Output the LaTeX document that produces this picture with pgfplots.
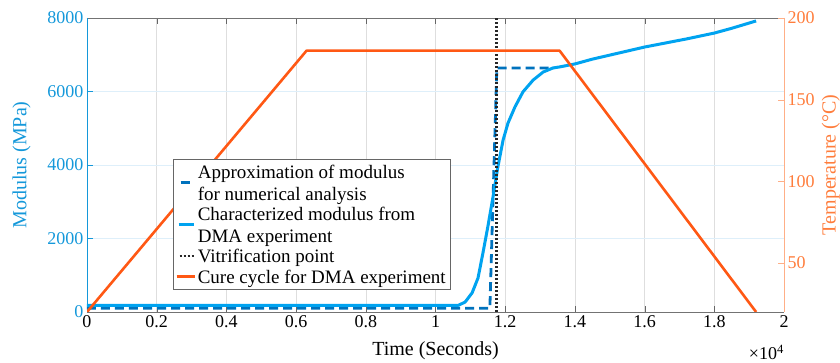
\documentclass[border=0pt]{standalone}
\usepackage{fontspec}
\setmainfont{Liberation Serif}
\usepackage{pgfplots}
\pgfplotsset{compat=1.18}
\definecolor{cblue}{RGB}{0,163,240}
\definecolor{cdash}{RGB}{0,114,189}
\definecolor{corange}{RGB}{255,88,20}
\definecolor{laxis}{RGB}{20,152,218}
\definecolor{raxis}{RGB}{255,125,60}
\definecolor{raxisline}{RGB}{255,175,135}
\definecolor{ygrid}{RGB}{222,239,250}
\definecolor{xgrid}{RGB}{222,222,222}
\begin{document}
\begin{tikzpicture}
\pgfplotsset{
 every axis/.append style={
  scale only axis, width=697pt, height=294pt,
  xmin=0, xmax=20000,
  tick align=inside,
  major tick length=6pt,
  scaled x ticks=false, scaled y ticks=false,
  /pgf/number format/assume math mode=true,
  tick label style={font=\fontsize{18}{18}\selectfont},
  label style={font=\fontsize{20}{20}\selectfont},
 }
}
\begin{axis}[
  axis y line*=left,
  ymin=0, ymax=8000,
  ytick={0,2000,4000,6000,8000},
  yticklabel style={color=laxis, /pgf/number format/set thousands separator={}},
  y axis line style={laxis},
  ytick style={laxis},
  xtick={0,2000,4000,6000,8000,10000,12000,14000,16000,18000,20000},
  xticklabels={0,0.2,0.4,0.6,0.8,1,1.2,1.4,1.6,1.8,2},
  x axis line style={black!55},
  xtick style={black!60},
  xmajorgrids, ymajorgrids,
  major x grid style={xgrid, line width=0.6pt},
  major y grid style={ygrid, line width=0.6pt},
  ylabel={Modulus (MPa)},
  ylabel style={color=laxis, at={(axis description cs:-0.094,0.5)}, anchor=center},
  xlabel={Time (Seconds)},
  xlabel style={at={(axis description cs:0.5,-0.133)}, anchor=center},
  clip=false,
]
% Approximation of modulus
\addplot[cdash, line width=2.8pt, dash pattern=on 9pt off 5pt] coordinates {
 (0,100) (11560,100) (11760,6640) (13400,6640)
};
% Characterized modulus
\addplot[cblue, line width=3pt, line join=round] coordinates {
 (0,180) (10650,180) (10850,270) (11050,520) (11220,925) (11360,1600)
 (11500,2310) (11650,3130) (11790,3950) (11940,4680) (12080,5140)
 (12280,5580) (12510,5990) (12800,6310) (13090,6530) (13370,6640)
 (13570,6670) (14000,6750) (14500,6880) (15000,6990) (16000,7210)
 (17200,7430) (18000,7590) (18500,7720) (19200,7920)
};
% Vitrification point
\addplot[black!85, line width=2.5pt, dash pattern=on 2pt off 2pt] coordinates {
 (11750,0) (11750,8000)
};
\node[anchor=base east, inner sep=0pt, font=\fontsize{18}{18}\selectfont] at (axis description cs:1,-0.163) {×10\textsuperscript{4}};
\end{axis}
\begin{axis}[
  axis y line*=right, axis x line=none,
  ymin=20, ymax=200,
  ytick={50,100,150,200},
  yticklabel style={color=raxis},
  y axis line style={raxisline},
  ytick style={raxisline},
  ylabel={Temperature (°C)},
  ylabel style={color=raxis, at={(axis description cs:1.067,0.5)}, anchor=center},
  legend style={at={(axis description cs:0.1234,0.52)}, anchor=north west,
    font=\fontsize{19}{21.6}\selectfont, draw=black!60, cells={align=left, inner ysep=0pt},
    inner sep=2pt, row sep=0pt},
  legend cell align=left,
]
\addlegendimage{legend image code/.code={\draw[cdash, line width=2.8pt] (4pt,0pt) -- (13pt,0pt);}}
\addlegendentry{\strut Approximation of modulus\\\strut for numerical analysis}
\addlegendimage{legend image code/.code={\draw[cblue, line width=3pt] (2pt,0pt) -- (17pt,0pt);}}
\addlegendentry{\strut Characterized modulus from\\\strut DMA experiment}
\addlegendimage{legend image code/.code={\draw[black!85, line width=2.5pt, dash pattern=on 2pt off 2pt] (3pt,0pt) -- (17pt,0pt);}}
\addlegendentry{\strut Vitrification point}
\addplot[corange, line width=2.6pt, line join=round,
  legend image code/.code={\draw[corange, line width=2.6pt] (0pt,0pt) -- (18pt,0pt);}] coordinates {
 (0,20) (6300,180) (13560,180) (19200,20)
};
\addlegendentry{\strut Cure cycle for DMA experiment}
\end{axis}
\pgfresetboundingbox
\useasboundingbox (-87pt,-51pt) rectangle (753pt,312pt);
\end{tikzpicture}
\end{document}
